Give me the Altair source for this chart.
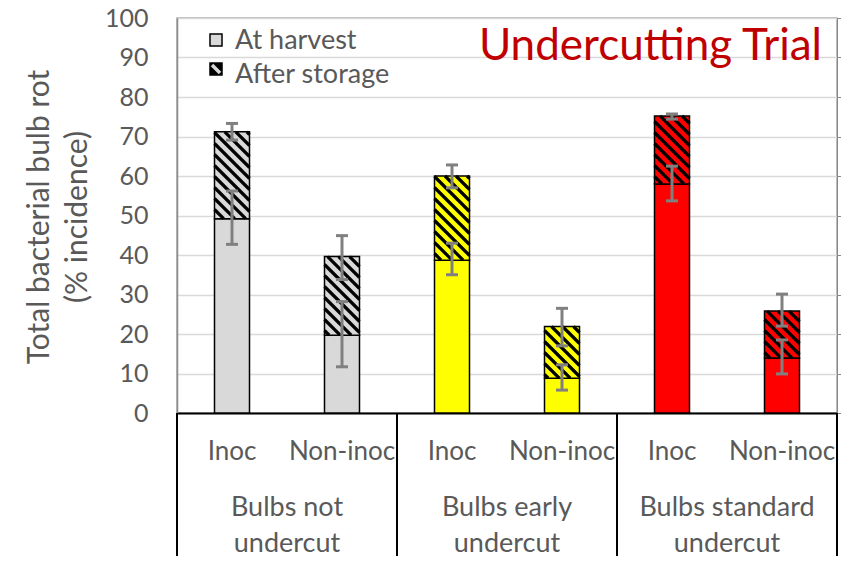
import altair as alt
import pandas as pd
import numpy as np

# ---------------- data ----------------
groups = ["Bulbs not\nundercut", "Bulbs early\nundercut", "Bulbs standard\nundercut"]
treatments = ["Inoc", "Non-inoc"]
group_colors = ["#d9d9d9", "#ffff00", "#ff0000"]
harvest = [49.2, 19.7, 38.7, 8.8, 58.0, 13.9]
total = [71.2, 39.6, 60.0, 21.9, 75.2, 25.8]
harvest_lo = [42.7, 11.7, 35.0, 5.8, 53.7, 9.9]
harvest_hi = [56.2, 28.2, 43.0, 12.2, 62.5, 18.5]
total_lo = [69.1, 33.8, 57.0, 17.0, 74.4, 22.0]
total_hi = [73.3, 44.9, 62.8, 26.5, 75.7, 30.1]
legend_labels = ["At harvest", "After storage"]
chart_title = "Undercutting Trial"
y_title = ["Total bacterial bulb rot", "(% incidence)"]

# ---------------- layout ----------------
W, H = 660, 395
XU = W / 6.0          # pixels per x unit
YU = H / 100.0        # pixels per y unit
HALF = 17.5 / XU      # half bar width in x units
CAP = 6.0 / XU        # half cap width
FONT = "Lato"
GREY = "#595959"

n = len(harvest)
rows = []
for i in range(n):
    g = i // 2
    rows.append(dict(
        xc=i + 0.5, xl=i + 0.5 - HALF, xr=i + 0.5 + HALF,
        cl=i + 0.5 - CAP, cr=i + 0.5 + CAP,
        harvest=harvest[i], total=total[i],
        hlo=harvest_lo[i], hhi=harvest_hi[i], tlo=total_lo[i], thi=total_hi[i],
        color=group_colors[g], treat=treatments[i % 2]))
df = pd.DataFrame(rows)

# hatch lines ("\" direction) clipped to each after-storage segment
P = 11.0
hatch = []
for r in rows:
    xa, xb = r["xl"] * XU, r["xr"] * XU
    ya, yb = (100 - r["total"]) * YU, (100 - r["harvest"]) * YU
    k0 = int(np.floor((ya - xb) / P)) - 1
    k1 = int(np.ceil((yb - xa) / P)) + 1
    for k in range(k0, k1 + 1):
        c = k * P
        lo = max(xa, ya - c)
        hi = min(xb, yb - c)
        if hi - lo > 0.5:
            hatch.append(dict(x=lo / XU, x2=hi / XU,
                              y=100 - (lo + c) / YU, y2=100 - (hi + c) / YU))
hdf = pd.DataFrame(hatch)

xs = alt.Scale(domain=[0, 6], nice=False, zero=False)
ys = alt.Scale(domain=[0, 100], nice=False)

base = alt.Chart(df)

harvest_bars = base.mark_rect(stroke="black", strokeWidth=1.5).encode(
    x=alt.X("xl:Q", scale=xs, axis=alt.Axis(labels=False, ticks=False, grid=False,
                                            title=None, domainColor="black", domainWidth=2)),
    x2="xr:Q",
    y=alt.Y("harvest:Q", scale=ys, axis=alt.Axis(
        values=list(range(0, 101, 10)), ticks=False, labelFont=FONT, labelFontSize=25,
        labelColor=GREY, labelPadding=29, gridColor="#d9d9d9", gridWidth=1.5,
        domainColor="#8c8c8c", domainWidth=1.5, title=None)),
    y2=alt.datum(0),
    fill=alt.Fill("color:N", scale=None),
)

storage_fill = base.mark_rect(strokeWidth=0).encode(
    x=alt.X("xl:Q", scale=xs), x2="xr:Q",
    y=alt.Y("total:Q", scale=ys), y2="harvest:Q",
    fill=alt.Fill("color:N", scale=None),
)

hatch_lines = alt.Chart(hdf).mark_rule(color="black", strokeWidth=3.2, strokeCap="butt").encode(
    x=alt.X("x:Q", scale=xs), x2="x2:Q",
    y=alt.Y("y:Q", scale=ys), y2="y2:Q",
)

storage_outline = base.mark_rect(fillOpacity=0, stroke="black", strokeWidth=1.5).encode(
    x=alt.X("xl:Q", scale=xs), x2="xr:Q",
    y=alt.Y("total:Q", scale=ys), y2="harvest:Q",
)

EB = "#808080"
err = []
for lo, hi in [("hlo", "hhi"), ("tlo", "thi")]:
    err.append(base.mark_rule(color=EB, strokeWidth=3).encode(
        x=alt.X("xc:Q", scale=xs), y=alt.Y(f"{lo}:Q", scale=ys), y2=f"{hi}:Q"))
    for f in (lo, hi):
        err.append(base.mark_rule(color=EB, strokeWidth=3).encode(
            x=alt.X("cl:Q", scale=xs), x2="cr:Q", y=alt.Y(f"{f}:Q", scale=ys)))

# category axis (Excel-style multi-level)
sep = alt.Chart(pd.DataFrame({"x": [0, 2, 4, 6]})).mark_rule(color="black", strokeWidth=2).encode(
    x=alt.X("x:Q", scale=xs), y=alt.value(H), y2=alt.value(H + 200))

treat_text = base.mark_text(font=FONT, fontSize=26, color=GREY, baseline="middle").encode(
    x=alt.X("xc:Q", scale=xs), y=alt.value(434), text="treat:N")

gdf = pd.DataFrame({"g": groups, "x": [1.0, 3.0, 5.0]})
group_text = alt.Chart(gdf).mark_text(font=FONT, fontSize=27, color=GREY, baseline="middle",
                                      lineBreak="\n", lineHeight=36).encode(
    x=alt.X("x:Q", scale=xs), y=alt.value(490), text="g:N")

# y title
yt1 = alt.Chart(pd.DataFrame({"t": [y_title[0]]})).mark_text(
    font=FONT, fontSize=30, color=GREY, angle=270, baseline="middle", align="center").encode(
    x=alt.value(-137), y=alt.value(199), text="t:N")
yt2 = alt.Chart(pd.DataFrame({"t": [y_title[1]]})).mark_text(
    font=FONT, fontSize=30, color=GREY, angle=270, baseline="middle", align="center").encode(
    x=alt.value(-99), y=alt.value(199), text="t:N")

# chart title
title = alt.Chart(pd.DataFrame({"t": [chart_title]})).mark_text(
    font=FONT, fontSize=44, color="#c00000", align="right", baseline="alphabetic").encode(
    x=alt.value(645), y=alt.value(42), text="t:N")

# legend
leg_box1 = alt.Chart(pd.DataFrame({"a": [0]})).mark_rect(
    fill="#d9d9d9", stroke="black", strokeWidth=1.5).encode(
    x=alt.value(33), x2=alt.value(45), y=alt.value(16), y2=alt.value(28))
leg_box2 = alt.Chart(pd.DataFrame({"a": [0]})).mark_rect(
    fill="black", stroke="black", strokeWidth=1.5).encode(
    x=alt.value(33), x2=alt.value(45), y=alt.value(45), y2=alt.value(57))
leg_stripe = alt.Chart(pd.DataFrame({"a": [0]})).mark_rule(
    color="#d9d9d9", strokeWidth=3.5, strokeCap="butt").encode(
    x=alt.value(35), x2=alt.value(43), y=alt.value(47), y2=alt.value(55))
leg_text = alt.Chart(pd.DataFrame({"t": legend_labels, "k": [0, 1]})).mark_text(
    font=FONT, fontSize=27, color=GREY, align="left", baseline="middle").encode(
    x=alt.value(58), y=alt.Y("k:Q", scale=alt.Scale(domain=[0, 1], range=[23, 57]), axis=None),
    text="t:N")

layers = [harvest_bars, storage_fill, hatch_lines, storage_outline] + err + [
    sep, treat_text, group_text, yt1, yt2, title, leg_box1, leg_box2, leg_stripe, leg_text]

chart = alt.layer(*layers).resolve_scale(y="independent").properties(
    width=W, height=H,
    autosize=alt.AutoSizeParams(type="none"),
    padding={"left": 169, "top": 10, "right": 4, "bottom": 143},
).configure_view(stroke="#a6a6a6", strokeWidth=1.5).configure_axis(labelFont=FONT)

chart.save("out.html", embed_options={"renderer": "svg", "actions": False})
